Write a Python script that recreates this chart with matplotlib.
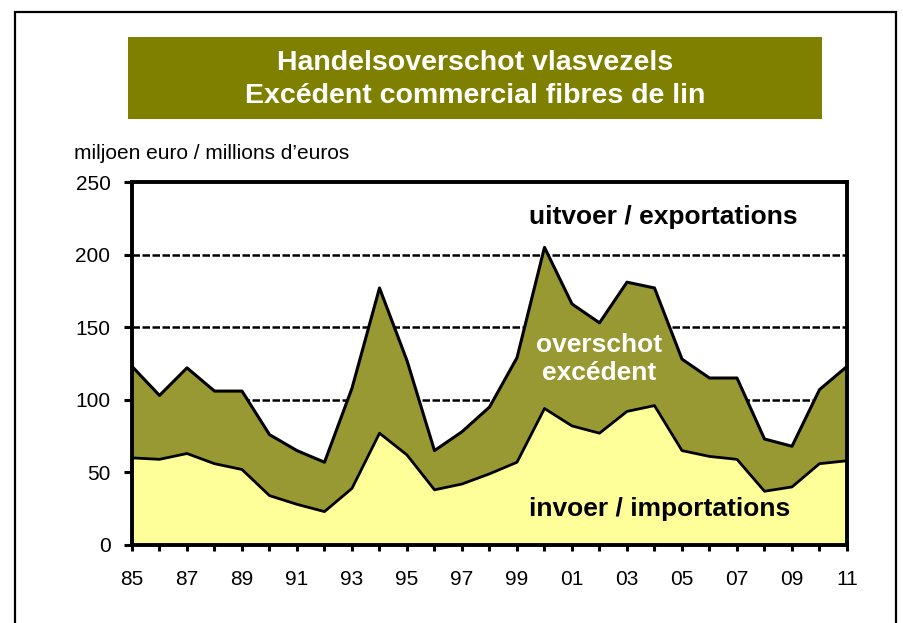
import matplotlib
matplotlib.use("Agg")
import matplotlib.pyplot as plt
from matplotlib.patches import Rectangle

plt.rcParams["font.family"] = ["Liberation Sans", "DejaVu Sans"]

# data (million euro)
years = list(range(1985, 2012))
exports = [123, 103, 122, 106, 106, 76, 65, 57, 108, 177, 127, 65, 78, 95,
           129, 205, 166, 153, 181, 177, 128, 115, 115, 73, 68, 107, 123]
imports = [60, 59, 63, 56, 52, 34, 28, 23, 39, 77, 62, 38, 42, 49,
           57, 94, 82, 77, 92, 96, 65, 61, 59, 37, 40, 56, 58]
tick_labels = [f"{y % 100:02d}" if (y - 1985) % 2 == 0 else "" for y in years]
title_lines = ["Handelsoverschot vlasvezels", "Excédent commercial fibres de lin"]

W, H = 904, 623
fig = plt.figure(figsize=(W / 100, H / 100), dpi=100)


def fx(px):
    return px / W


def fy(py):
    return 1 - py / H


# outer frame
fig.patches.append(Rectangle((fx(15), fy(640)), fx(896) - fx(15), fy(12) - fy(640),
                             transform=fig.transFigure, fill=False,
                             edgecolor="black", linewidth=1.6))

# title box
fig.patches.append(Rectangle((fx(128), fy(119)), fx(822) - fx(128), fy(37) - fy(119),
                             transform=fig.transFigure, facecolor="#808000",
                             edgecolor="none"))
fig.text(fx(475), fy(63), title_lines[0], ha="center", va="center",
         color="white", fontsize=20.5, fontweight="bold")
fig.text(fx(475), fy(96), title_lines[1], ha="center", va="center",
         color="white", fontsize=20.5, fontweight="bold")

fig.text(fx(74), fy(154), "miljoen euro / millions d\u2019euros", ha="left",
         va="center", fontsize=15)

ax = fig.add_axes([fx(132), fy(545), fx(847) - fx(132), fy(182) - fy(545)])

# dashed gridlines behind the areas
for v in [50, 100, 150, 200]:
    ax.axhline(v, color="black", linestyle=(0, (3, 1)), linewidth=1.8, zorder=1)

ax.fill_between(years, 0, imports, facecolor="#FFFF99", edgecolor="none", zorder=2)
ax.fill_between(years, imports, exports, facecolor="#999933", edgecolor="none", zorder=2)
ax.plot(years, imports, color="black", linewidth=2, zorder=3)
ax.plot(years, exports, color="black", linewidth=2.2, zorder=3)

ax.set_xlim(1985, 2011)
ax.set_ylim(0, 250)
ax.set_yticks([0, 50, 100, 150, 200, 250])
ax.set_xticks(years)
ax.set_xticklabels(tick_labels)
ax.tick_params(axis="both", direction="out", width=2.2, labelsize=15)
ax.tick_params(axis="x", length=4, pad=14)
ax.tick_params(axis="y", length=5.5, pad=10)
for s in ax.spines.values():
    s.set_linewidth(2.8)
    s.set_zorder(4)

ax.text(2004.33, 226, "uitvoer / exportations", ha="center", va="center",
        fontsize=19, fontweight="bold", zorder=5)
ax.text(2002.0, 128, "overschot\nexcédent", ha="center", va="center",
        fontsize=19, fontweight="bold", color="white", linespacing=1.2, zorder=5)
ax.text(2004.2, 25, "invoer / importations", ha="center", va="center",
        fontsize=19, fontweight="bold", zorder=5)

fig.savefig("out.png", dpi=100)
